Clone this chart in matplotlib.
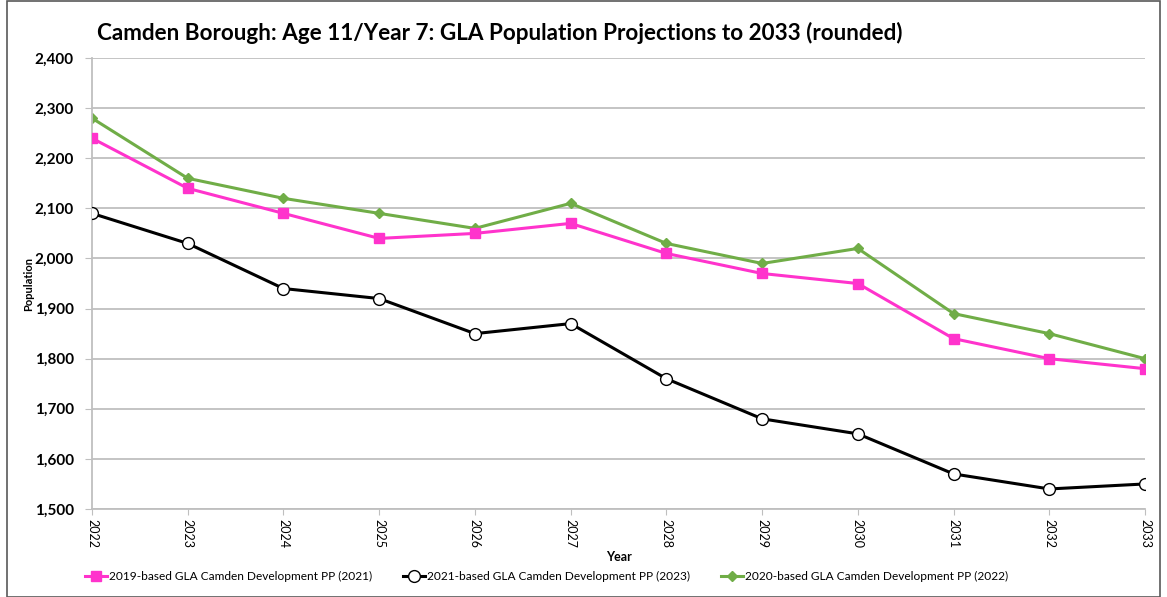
import matplotlib.pyplot as plt
from matplotlib.patches import Rectangle
from matplotlib.ticker import FuncFormatter, MultipleLocator

plt.rcParams['font.family'] = ['Lato', 'DejaVu Sans']

# data
years = [2022, 2023, 2024, 2025, 2026, 2027, 2028, 2029, 2030, 2031, 2032, 2033]
pp2019 = [2240, 2140, 2090, 2040, 2050, 2070, 2010, 1970, 1950, 1840, 1800, 1780]
pp2021 = [2090, 2030, 1940, 1920, 1850, 1870, 1760, 1680, 1650, 1570, 1540, 1550]
pp2020 = [2280, 2160, 2120, 2090, 2060, 2110, 2030, 1990, 2020, 1890, 1850, 1800]

fig = plt.figure(figsize=(11.67, 5.97), dpi=100)
ax = fig.add_axes([0.0788, 0.1474, 0.9024, 0.7554])

ax.plot(years, pp2019, color='#ff33cc', lw=2.2, marker='s', ms=7.5, zorder=3,
        label='2019-based GLA Camden Development PP (2021)')
ax.plot(years, pp2021, color='black', lw=2.2, marker='o', ms=8.5, mfc='white',
        mec='black', mew=1.0, zorder=4,
        label='2021-based GLA Camden Development PP (2023)')
ax.plot(years, pp2020, color='#70ad47', lw=2.2, marker='D', ms=5, zorder=2,
        label='2020-based GLA Camden Development PP (2022)')

ax.set_xlim(years[0], years[-1])
ax.set_ylim(1500, 2400)
ax.yaxis.set_major_locator(MultipleLocator(100))
ax.yaxis.set_major_formatter(FuncFormatter(lambda v, p: f'{int(v):,}'))
ax.set_xticks(years)
ax.set_xticklabels([str(y) for y in years], rotation=-90, fontsize=9)
for t in ax.get_yticklabels():
    t.set_fontweight('bold')
    t.set_fontsize(11)

ax.grid(axis='y', color='#bfbfbf', lw=1.3)
ax.set_axisbelow(True)
for s in ['top', 'right']:
    ax.spines[s].set_visible(False)
for s in ['left', 'bottom']:
    ax.spines[s].set_color('#bfbfbf')
    ax.spines[s].set_linewidth(1.3)
ax.tick_params(axis='y', length=5, color='#bfbfbf', pad=8)
ax.tick_params(axis='x', length=4, color='#bfbfbf', pad=3)

ax.set_xlabel('Year', fontsize=9, fontweight='bold', labelpad=2)
ax.set_ylabel('Population', fontsize=8, fontweight='bold')
ax.yaxis.set_label_coords(-0.055, 0.5)

fig.text(0.083, 0.944, 'Camden Borough: Age 11/Year 7: GLA Population Projections to 2033 (rounded)',
         fontsize=16.2, fontweight='bold', va='center', ha='left')

fig.legend(loc='center', bbox_to_anchor=(0.468, 0.034), ncol=3, frameon=False,
           fontsize=8.6, handlelength=1.9, columnspacing=2.6, handletextpad=0.1)

fig.patches.append(Rectangle((0.006, 0.0), 0.988, 0.998, transform=fig.transFigure,
                             fill=False, edgecolor='#595959', lw=1.2))

fig.savefig('out.png', dpi=100)
